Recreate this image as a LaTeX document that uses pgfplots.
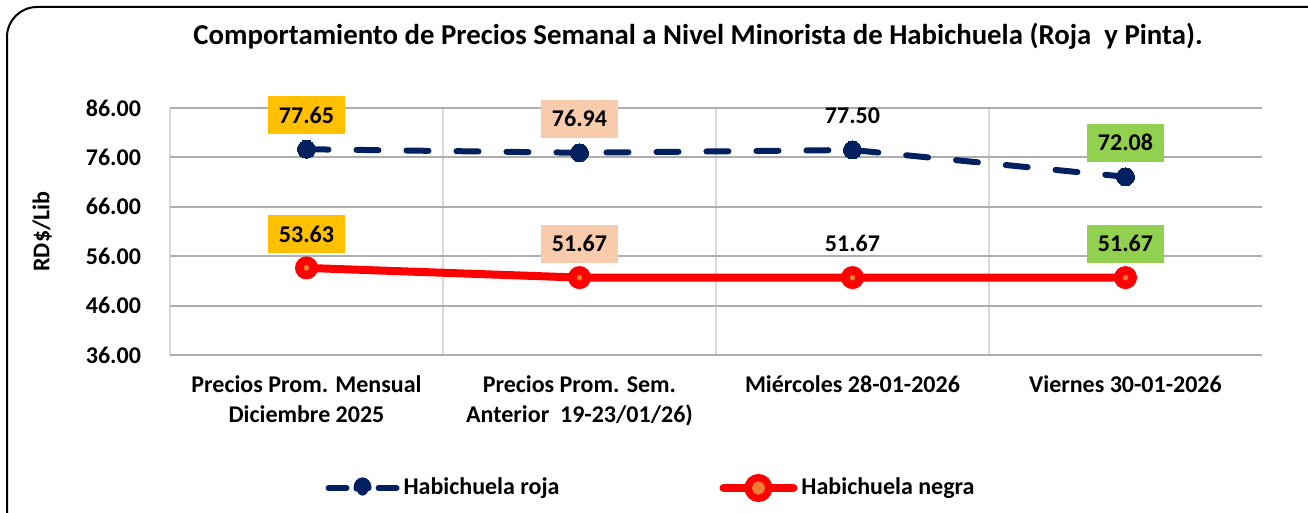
\documentclass[border=0pt]{standalone}
\usepackage{pgfplots}
\pgfplotsset{compat=1.18}
\usepackage{pgfplotstable}
\usepackage{fontspec}
\setmainfont{Carlito}
\definecolor{navy}{HTML}{002060}
\definecolor{lgold}{HTML}{FFC000}
\definecolor{lpeach}{HTML}{F8CBAD}
\definecolor{lgreen}{HTML}{92D050}
\definecolor{dotor}{HTML}{ED7D31}
\definecolor{gridc}{HTML}{AEAEAE}
\definecolor{vgridc}{HTML}{D9D9D9}

\pgfplotstableread{
x y
0 77.65
1 76.94
2 77.50
3 72.08
}\roja
\pgfplotstableread{
x y
0 53.63
1 51.67
2 51.67
3 51.67
}\negra

\begin{document}
\begin{tikzpicture}[x=1pt,y=1pt]
\useasboundingbox (0,0) rectangle (654,-256.5);
\draw[line width=1pt, rounded corners=15pt] (3.5,-3.5) rectangle (675,-275);
\begin{axis}[
  at={(85pt,-177.5pt)}, anchor=south west,
  scale only axis, width=546pt, height=123.5pt,
  xmin=-0.5, xmax=3.5, ymin=36, ymax=86,
  clip=false,
  /pgf/number format/assume math mode=true,
  xtick={0,1,2,3},
  xticklabels={{Precios Prom. Mensual\\Diciembre 2025},{Precios Prom. Sem.\\Anterior\ \ 19-23/01/26)},{Miércoles 28-01-2026},{Viernes 30-01-2026}},
  minor xtick={-0.5,0.5,1.5,2.5},
  ytick={36,46,56,66,76,86},
  yticklabel={\pgfmathprintnumber[fixed,fixed zerofill,precision=2]{\tick}},
  ymajorgrids, xminorgrids,
  major grid style={gridc, line width=1pt},
  minor grid style={vgridc, line width=1pt},
  axis line style={draw=none},
  major tick length=0pt, minor tick length=0pt,
  yticklabel style={font=\bfseries\fontsize{12}{14}\selectfont, xshift=-11pt},
  xticklabel style={align=center, font=\bfseries\fontsize{12}{15}\selectfont, anchor=north, yshift=-7pt},
  title={Comportamiento de Precios Semanal a Nivel Minorista de Habichuela (Roja\ \ y Pinta).},
  title style={at={(axis description cs:0.4835,1.2915)}, anchor=center, yshift=-6pt, font=\bfseries\fontsize{14.4}{17}\selectfont},
  ylabel={RD\$/Lib},
  ylabel style={at={(axis description cs:-0.117,0.5)}, anchor=center, rotate=0, font=\bfseries\fontsize{12}{14}\selectfont},
  legend style={at={(axis description cs:0.4414,-0.5385)}, anchor=center, draw=none, fill=none,
     font=\bfseries\fontsize{12}{14}\selectfont,
     /tikz/every even column/.append style={column sep=78pt}},
  legend columns=2, legend cell align=left,
  nodes near coords={\pgfmathprintnumber[fixed,fixed zerofill,precision=2]{\pgfplotspointmeta}},
  every node near coord/.append style={anchor=center, yshift=17pt, minimum width=38.5pt, minimum height=19pt, inner sep=0pt, text=black, font=\bfseries\fontsize{12}{14}\selectfont},
  coordinate style/.condition={\coordindex==0}{fill=lgold},
  coordinate style/.condition={\coordindex==1}{fill=lpeach},
  coordinate style/.condition={\coordindex==3}{fill=lgreen},
]
\addplot[navy, line width=3pt, dash pattern=on 11pt off 14pt, line cap=round,
  mark=*, mark size=4.5pt, mark options={solid, fill=navy, draw=navy, line width=0pt},
  legend image code/.code={
    \draw[navy, line width=3pt, line cap=round, solid] (1.5pt,0pt) -- (10.5pt,0pt);
    \draw[navy, line width=3pt, line cap=round, solid] (26.5pt,0pt) -- (35.5pt,0pt);
    \fill[navy] (18.5pt,0pt) ellipse (3pt and 3.8pt);
  }] table[x=x,y=y] {\roja};
\addlegendentry{Habichuela roja}
\addplot[red, line width=4pt,
  mark=*, mark size=3.6pt, mark options={fill=dotor, draw=red, line width=4.25pt},
  legend image code/.code={
    \draw[red, line width=4pt, line cap=round] (1pt,0pt) -- (36pt,0pt);
    \fill[red] (18.5pt,0pt) circle (5pt);
    \fill[dotor] (18.5pt,0pt) circle (1.2pt);
  }] table[x=x,y=y] {\negra};
\addlegendentry{Habichuela negra}
\end{axis}
\end{tikzpicture}
\end{document}
